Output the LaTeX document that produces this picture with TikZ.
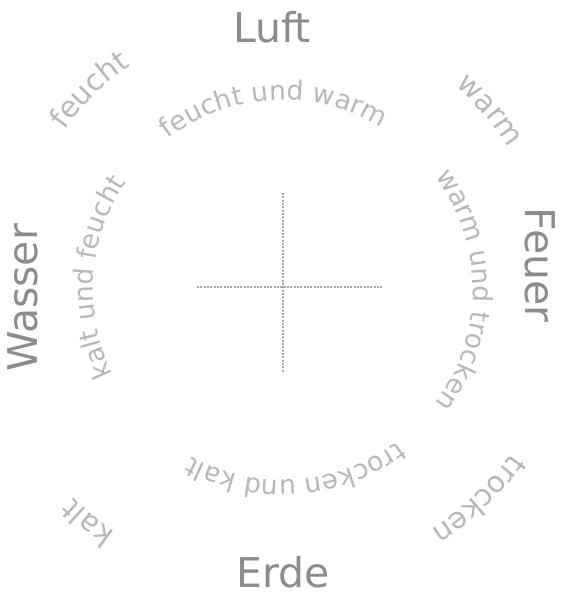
\documentclass[tikz,border=0pt]{standalone}
\usepackage{fontspec}
\setmainfont{DejaVu Sans}
\usetikzlibrary{decorations.text}
\begin{document}
\begin{tikzpicture}[x=0.75pt,y=0.75pt,
  big/.style={font=\fontsize{30.75}{36}\selectfont, text=black!45, inner sep=0pt},
  innerdeco/.style={decorate, decoration={text along path, text align=center, text color=black!28,
      text={|\fontsize{20}{24}\selectfont|#1}}},
  outerdeco/.style={decorate, decoration={text along path, text align=center, text color=black!28,
      text={|\fontsize{22}{26}\selectfont|#1}}},
  crossline/.style={draw=black!35, line width=1.5pt, densely dotted}
]
\useasboundingbox (0,0) rectangle (562,597);
\coordinate (C) at (283,307);
% big element labels
\node[big] (luft) at (272,570) {Luft};
\node[big] (erde) at (283,25) {Erde};
\node[big, rotate=-90] (feuer) at (540,332) {Feuer};
\node[big, rotate=90] (wasser) at (23,299) {Wasser};
% inner arcs
\path[shift={(C)}, innerdeco={feucht und warm}] (153:190) arc[start angle=153, end angle=33, radius=190];
\path[shift={(C)}, innerdeco={warm und trocken}] (60:190) arc[start angle=60, end angle=-60, radius=190];
\path[shift={(C)}, innerdeco={trocken und kalt}] (-26:190) arc[start angle=-26, end angle=-146, radius=190];
\path[shift={(C)}, innerdeco={kalt und feucht}] (236:190) arc[start angle=236, end angle=116, radius=190];
% outer corner words
\path[shift={(C)}, outerdeco={feucht}] (164:271) arc[start angle=164, end angle=104, radius=271];
\path[shift={(C)}, outerdeco={warm}] (71:267) arc[start angle=71, end angle=11, radius=267];
\path[shift={(C)}, outerdeco={trocken}] (-17:281) arc[start angle=-17, end angle=-77, radius=281];
\path[shift={(C)}, outerdeco={kalt}] (-100:295) arc[start angle=-100, end angle=-160, radius=295];
% cross
\coordinate (vt) at (283,404);
\coordinate (vb) at (283,225);
\coordinate (hl) at (197,310);
\coordinate (hr) at (382,310);
\draw[crossline] (vt) -- (vb);
\draw[crossline] (hl) -- (hr);
\end{tikzpicture}
\end{document}
